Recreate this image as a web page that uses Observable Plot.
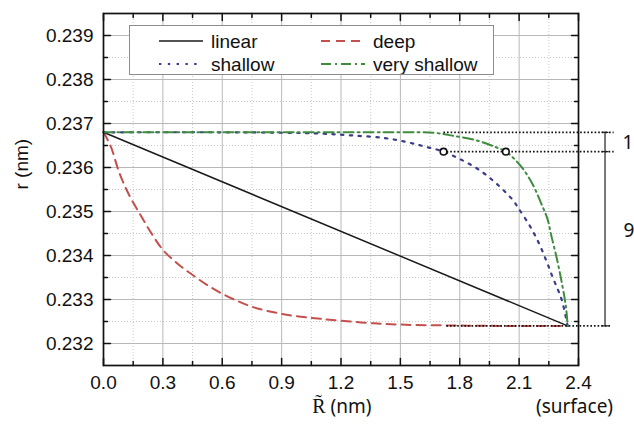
<!DOCTYPE html>
<html>
<head>
<meta charset="utf-8">
<script src="https://cdn.jsdelivr.net/npm/d3@7"></script>
<script src="https://cdn.jsdelivr.net/npm/@observablehq/plot@0.6"></script>
<style>
  html, body { margin: 0; padding: 0; background: #fff; }
  #wrap { position: relative; width: 634px; height: 425px; }
  #legend { position: absolute; left: 129px; top: 25px; width: 363px; height: 48px;
            border: 1px solid #8c8c8c; background: #fff; }
</style>
</head>
<body>
<div id="wrap"><div id="chart"></div><div id="legend"></div></div>
<script>
// ---- data ----
const linearR = [0, 2.345];
const linearr = [0.2368, 0.2324];

const deepR = [0, 0.035, 0.08, 0.13, 0.187, 0.24, 0.30, 0.37, 0.44, 0.52, 0.60, 0.68, 0.76, 0.86, 0.96, 1.10, 1.30, 1.50, 1.75, 2.0, 2.345];
const deepr = [0.2368, 0.2365, 0.23588, 0.23537, 0.23492, 0.23452, 0.23413, 0.23383, 0.23359, 0.23334, 0.23313, 0.23296, 0.23282, 0.23271, 0.23263, 0.23256, 0.23248, 0.23243, 0.23241, 0.2324, 0.2324];

const shallowR = [0, 0.6, 0.9, 1.1, 1.25, 1.418, 1.53, 1.62, 1.718, 1.806, 1.89, 1.966, 2.033, 2.072, 2.10, 2.157, 2.202, 2.241, 2.27, 2.298, 2.317, 2.345];
const shallowr = [0.2368, 0.2368, 0.23679, 0.23677, 0.23673, 0.23667, 0.23658, 0.23648, 0.23636, 0.23618, 0.23597, 0.23571, 0.23543, 0.23524, 0.23505, 0.23465, 0.23426, 0.23384, 0.2335, 0.2332, 0.23297, 0.2324];

const vshallowR = [0, 1.3, 1.5, 1.67, 1.755, 1.89, 1.983, 2.033, 2.109, 2.168, 2.21, 2.244, 2.261, 2.291, 2.317, 2.337, 2.345];
const vshallowr = [0.2368, 0.2368, 0.2368, 0.23679, 0.23673, 0.23661, 0.23646, 0.23636, 0.23603, 0.23562, 0.2352, 0.23482, 0.23448, 0.23392, 0.23335, 0.23282, 0.2324];

// annotation values
const levelTop = 0.2368, levelMid = 0.23636, levelBot = 0.2324;
const markerR = [1.718, 2.033];
const bracketR = 2.534;
const annotLabels = ["1", "9"];
const annotLabelR = [2.65, 2.655];
const annotLabelr = [0.23656, 0.23456];

// ticks
const xTicks = [0, 0.3, 0.6, 0.9, 1.2, 1.5, 1.8, 2.1, 2.4];
const xMinor = [0.15, 0.45, 0.75, 1.05, 1.35, 1.65, 1.95, 2.25];
const yTicks = [0.232, 0.233, 0.234, 0.235, 0.236, 0.237, 0.238, 0.239];
const yMinor = [0.2325, 0.2335, 0.2345, 0.2355, 0.2365, 0.2375, 0.2385];

const seriesNames = ["linear", "deep", "shallow", "very shallow"];
const seriesColors = ["#1a1a1a", "#c4504e", "#3a3d86", "#3f8c3f"];
const seriesDash = [null, "9,6", "2.4,6.4", "10,4,2,4"];
const seriesWidth = [1.5, 2, 2.2, 2];

// ---- build ----
const mk = (R, r) => R.map((v, i) => ({R: v, r: r[i]}));
const series = [mk(linearR, linearr), mk(deepR, deepr), mk(shallowR, shallowr), mk(vshallowR, vshallowr)];

const tickShape = {draw(ctx, l) { ctx.moveTo(0, 0); ctx.lineTo(0, -l); }};
const fontSans = "'Liberation Sans', Arial, sans-serif";

const lineMarks = [1, 0, 2, 3].map(i => Plot.line(series[i], {
  x: "R", y: "r", stroke: seriesColors[i], strokeWidth: seriesWidth[i],
  strokeDasharray: seriesDash[i] ?? undefined, curve: "catmull-rom"
}));

const dotted = {stroke: "#111", strokeWidth: 1.8, strokeDasharray: "1.6,2"};

const chart = Plot.plot({
  width: 634, height: 425,
  marginLeft: 103, marginRight: 56, marginTop: 13, marginBottom: 60,
  x: {domain: [0, 2.4]},
  y: {domain: [0.2315, 0.2395]},
  style: {fontFamily: fontSans, fontSize: "19px", background: "white", overflow: "visible", color: "#111"},
  marks: [
    Plot.gridX(xMinor, {stroke: "#c8c8c8", strokeOpacity: 1, strokeDasharray: "1,2"}),
    Plot.gridY(yMinor, {stroke: "#c8c8c8", strokeOpacity: 1, strokeDasharray: "1,2"}),
    Plot.gridX(xTicks, {stroke: "#b8b8b8", strokeOpacity: 1}),
    Plot.gridY(yTicks, {stroke: "#b8b8b8", strokeOpacity: 1}),
    ...lineMarks,
    // annotation dotted levels
    Plot.ruleY([levelTop], {x1: 1.72, x2: 2.58, ...dotted}),
    Plot.ruleY([levelMid], {x1: markerR[0], x2: 2.58, ...dotted}),
    Plot.ruleY([levelBot], {x1: 1.735, x2: 2.565, ...dotted}),
    Plot.ruleX([bracketR], {y1: levelTop, y2: levelBot, stroke: "#222", strokeWidth: 1.2}),
    Plot.vector([levelTop, levelMid, levelBot], {x: bracketR, y: d => d, length: 6, rotate: 90, anchor: "middle", shape: tickShape, stroke: "#222", strokeWidth: 1.2}),
    Plot.dot(markerR, {x: d => d, y: levelMid, r: 3.3, fill: "white", stroke: "#111", strokeWidth: 1.6}),
    Plot.text(annotLabels, {x: (d, i) => annotLabelR[i], y: (d, i) => annotLabelr[i], text: d => d, fontSize: 19, fontFamily: "'Noto Sans', sans-serif", fill: "#111"}),
    Plot.frame({stroke: "#111", strokeWidth: 1.7}),
    // inward ticks
    Plot.vector(xTicks, {x: d => d, frameAnchor: "bottom", length: 7, rotate: 0, anchor: "start", shape: tickShape, stroke: "#111", strokeWidth: 1.5}),
    Plot.vector(xMinor, {x: d => d, frameAnchor: "bottom", length: 4, rotate: 0, anchor: "start", shape: tickShape, stroke: "#111", strokeWidth: 1.5}),
    Plot.vector(xTicks, {x: d => d, frameAnchor: "top", length: 7, rotate: 180, anchor: "start", shape: tickShape, stroke: "#111", strokeWidth: 1.5}),
    Plot.vector(xMinor, {x: d => d, frameAnchor: "top", length: 4, rotate: 180, anchor: "start", shape: tickShape, stroke: "#111", strokeWidth: 1.5}),
    Plot.vector(yTicks, {y: d => d, frameAnchor: "left", length: 7, rotate: 90, anchor: "start", shape: tickShape, stroke: "#111", strokeWidth: 1.5}),
    Plot.vector(yMinor, {y: d => d, frameAnchor: "left", length: 4, rotate: 90, anchor: "start", shape: tickShape, stroke: "#111", strokeWidth: 1.5}),
    Plot.vector(yTicks, {y: d => d, frameAnchor: "right", length: 7, rotate: -90, anchor: "start", shape: tickShape, stroke: "#111", strokeWidth: 1.5}),
    Plot.vector(yMinor, {y: d => d, frameAnchor: "right", length: 4, rotate: -90, anchor: "start", shape: tickShape, stroke: "#111", strokeWidth: 1.5}),
    Plot.axisX(xTicks, {tickSize: 0, tickPadding: 10, tickFormat: d3.format(".1f"), label: null, fontSize: 19}),
    Plot.axisY(yTicks, {tickSize: 0, tickPadding: 10, tickFormat: d3.format(".3f"), label: null, fontSize: 19}),
    // axis titles
    Plot.text(["r (nm)"], {frameAnchor: "left", dx: -82, rotate: -90, fontSize: 19, fontFamily: fontSans, fill: "#111"}),
    Plot.text(["R\u0303"], {frameAnchor: "bottom", dx: -22, dy: 47, fontSize: 20, fontFamily: "'Liberation Serif', 'DejaVu Serif', serif", fill: "#111"}),
    Plot.text(["(nm)"], {frameAnchor: "bottom", dx: 10, dy: 47, fontSize: 19, fontFamily: "'Noto Sans', sans-serif", fill: "#111"}),
    Plot.text(["(surface)"], {x: 2.4, frameAnchor: "bottom", dx: -4, dy: 47, fontSize: 19, fontFamily: "'Noto Sans', sans-serif", fill: "#111"})
  ]
});
document.getElementById("chart").appendChild(chart);

// legend (HTML overlay, box inside plot area)
// grid positions: linear (col 0,row 0), deep (col 1,row 0), shallow (col 0,row 1), very shallow (col 1,row 1)
const pos = [[29, 15], [191, 15], [29, 38], [191, 38]];
const ns = "http://www.w3.org/2000/svg";
const lsvg = document.createElementNS(ns, "svg");
lsvg.setAttribute("width", 363); lsvg.setAttribute("height", 48);
lsvg.style.display = "block";
seriesNames.forEach((name, s) => {
  const [px, py] = pos[s];
  const ln = document.createElementNS(ns, "line");
  ln.setAttribute("x1", px); ln.setAttribute("x2", px + 44);
  ln.setAttribute("y1", py); ln.setAttribute("y2", py);
  ln.setAttribute("stroke", seriesColors[s]);
  ln.setAttribute("stroke-width", seriesWidth[s]);
  if (seriesDash[s]) ln.setAttribute("stroke-dasharray", seriesDash[s]);
  lsvg.appendChild(ln);
  const tx = document.createElementNS(ns, "text");
  tx.setAttribute("x", px + 52); tx.setAttribute("y", py);
  tx.setAttribute("dy", "0.35em");
  tx.setAttribute("font-size", 19);
  tx.setAttribute("font-family", fontSans);
  tx.setAttribute("fill", "#111");
  tx.textContent = name;
  lsvg.appendChild(tx);
});
document.getElementById("legend").appendChild(lsvg);
</script>
</body>
</html>
